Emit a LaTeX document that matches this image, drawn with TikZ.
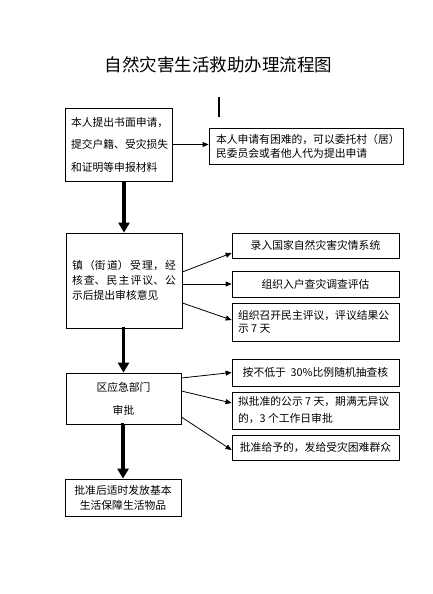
\documentclass[tikz,border=0pt]{standalone}
\usepackage{fontspec}
\setmainfont{Noto Sans CJK SC}
\usetikzlibrary{arrows.meta}
\begin{document}
\begin{tikzpicture}[x=1pt,y=-1pt,
  box/.style={draw, line width=0.8pt, inner ysep=0pt, inner xsep=6pt},
  fs/.style={font=\fontsize{10.8}{#1}\selectfont},
  bigarrow/.style={line width=3.6pt, -{Triangle[width=11pt,length=10pt]}},
  thinarrow/.style={line width=0.8pt, -{Triangle[width=5pt,length=6pt]}},
  rbox/.style={box, minimum width=167pt, text width=155pt}
]
\useasboundingbox (0,0) rectangle (432,594);
\node[font=\fontsize{17.5}{19}\selectfont] (title) at (218.5,65) {自然灾害生活救助办理流程图};
\coordinate (bartop) at (219,97);
\coordinate (barbot) at (219,117);
\draw[line width=1.8pt] (bartop) -- (barbot);

\node[box, fs=22.5, minimum width=107pt, minimum height=73pt, text width=95pt, align=flush left] (b1) at (118.5,144.5)
  {本人提出书面申请，\\提交户籍、受灾损失\\和证明等申报材料};
\node[box, fs=14, minimum width=194pt, minimum height=36pt, text width=180pt, inner xsep=7pt, align=flush left] (b2) at (306,146)
  {本人申请有困难的，可以委托村（居）\\民委员会或者他人代为提出申请};
\node[box, fs=15, minimum width=116pt, minimum height=95pt, text width=104pt, align=justify] (b3) at (124,280.5)
  {\XeTeXlinebreaklocale "zh"\XeTeXlinebreakskip=0pt plus 3pt 镇（街道）受理，经\linebreak 核查、民主评议、公\linebreak 示后提出审核意见};
\node[rbox, fs=13, minimum height=25pt, align=flush center] (ra) at (315.5,245.5) {录入国家自然灾害灾情系统};
\node[rbox, fs=13, minimum height=26pt, align=flush center] (rb) at (315.5,284) {组织入户查灾调查评估};
\node[rbox, fs=13, minimum height=38pt, align=flush left] (rc) at (315.5,322) {组织召开民主评议，评议结果公\\示 7 天};
\node[box, fs=23, minimum width=115pt, minimum height=51pt, text width=103pt, align=flush center] (b4) at (123.5,398.5)
  {区应急部门\\审批};
\node[rbox, fs=13, minimum height=27pt, align=flush center] (rd) at (315.5,372.5) {按不低于 \ 30\%比例随机抽查核};
\node[rbox, fs=17, minimum height=37pt, align=flush left] (re) at (315.5,410.5) {拟批准的公示 7 天，期满无异议\\的，3 个工作日审批};
\node[rbox, fs=13, minimum height=25pt, align=flush center] (rf) at (315.5,447.5) {批准给予的，发给受灾困难群众};
\node[box, fs=15, minimum width=116pt, minimum height=37pt, text width=104pt, align=flush center] (b5) at (123,497.5)
  {批准后适时发放基本\\生活保障生活物品};

\draw[thinarrow] (b1.east) -- (b1.east -| b2.west);
\draw[bigarrow] (b3.north |- b1.south) -- (b3.north);
\draw[bigarrow] (b3.south) -- (b3.south -| b4.north) -- (b4.north);
\draw[bigarrow] (b4.south) -- (b4.south -| b5.north) -- (b5.north);

\draw[thinarrow] ([yshift=8.5pt]b3.east) -- ([yshift=-7.5pt]ra.west);
\draw[thinarrow] (b3.east |- rb.west) -- (rb.west);
\draw[thinarrow] ([yshift=-22.5pt]b3.east) -- ([yshift=2pt]rc.west);

\draw[thinarrow] ([yshift=20.5pt]b4.east) -- (rd.west);
\draw[thinarrow] ([yshift=7.5pt]b4.east) -- ([yshift=7.5pt]re.west);
\draw[thinarrow] ([yshift=-18.5pt]b4.east) -- ([yshift=-2.5pt]rf.west);
\end{tikzpicture}
\end{document}
